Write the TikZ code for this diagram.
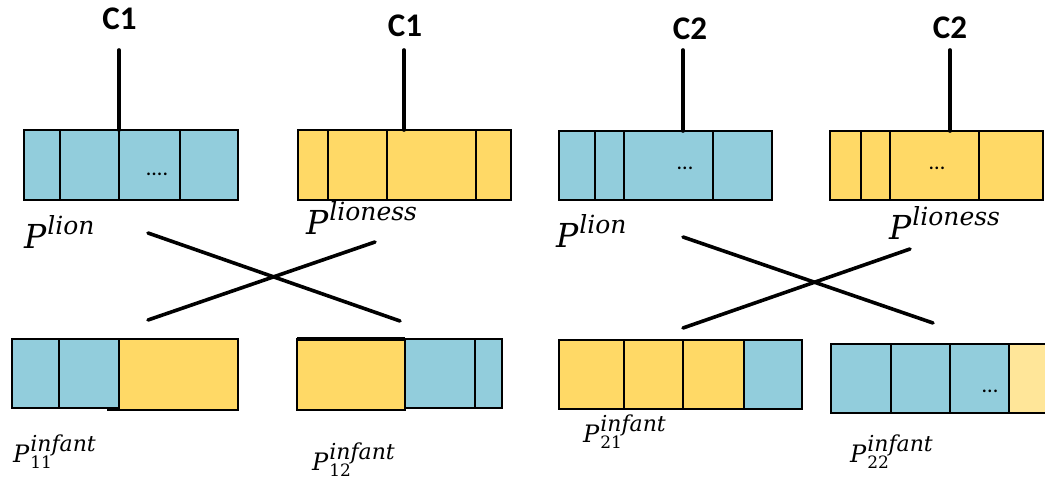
\documentclass[tikz,border=0pt]{standalone}
\usepackage{fontspec}
\newfontfamily\labfont{Carlito}
\newfontfamily\mfont{DejaVu Serif}
\definecolor{cblue}{HTML}{92CDDC}
\definecolor{cyel}{HTML}{FFD966}
\definecolor{clyel}{HTML}{FFE699}
\newcommand\topP[1]{\mfont\itshape P\kern1pt\raisebox{14pt}{\fontsize{25}{25}\selectfont #1}}
\newcommand\infP[1]{\mfont\itshape P\kern1pt%
  \rlap{\raisebox{11pt}{\fontsize{22}{22}\selectfont infant}}%
  \rlap{\raisebox{-6pt}{\fontsize{17}{17}\selectfont\upshape #1}}%
  \hphantom{\fontsize{22}{22}\selectfont infant}}
\tikzset{
  cell/.style={draw=black, line width=2.8pt, inner sep=0pt, outer sep=0pt, anchor=north west},
  bc/.style={cell, fill=cblue},
  yc/.style={cell, fill=cyel},
  lyc/.style={cell, fill=clyel},
  link/.style={line width=3.6pt, line cap=round},
  clab/.style={font=\labfont\bfseries\fontsize{33}{36}\selectfont, inner sep=0pt},
  plab/.style={font=\fontsize{33}{40}\selectfont, inner sep=0pt, anchor=base west},
  ilab/.style={font=\fontsize{24}{30}\selectfont, inner sep=0pt, anchor=base west},
  dotlab/.style={font=\labfont\fontsize{22}{24}\selectfont, inner sep=0pt},
}
\begin{document}
\begin{tikzpicture}[x=1pt,y=-1pt]
\clip (0,0) rectangle (1045,481);
\fill[white] (0,0) rectangle (1045,481);

% ---------- top row ----------
% box 1 (lion, C1)
\node[bc, minimum width=36pt, minimum height=70pt] (b1a) at (24,130) {};
\node[bc, minimum width=59pt, minimum height=70pt] (b1b) at (60,130) {};
\node[bc, minimum width=61pt, minimum height=70pt] (b1c) at (119,130) {};
\node[bc, minimum width=58pt, minimum height=70pt] (b1d) at (180,130) {};
\node[dotlab] (d1) at (157,174) {....};
% box 2 (lioness, C1)
\node[yc, minimum width=30pt, minimum height=70pt] (b2a) at (298,130) {};
\node[yc, minimum width=59pt, minimum height=70pt] (b2b) at (328,130) {};
\node[yc, minimum width=89pt, minimum height=70pt] (b2c) at (387,130) {};
\node[yc, minimum width=35pt, minimum height=70pt] (b2d) at (476,130) {};
% box 3 (lion, C2)
\node[bc, minimum width=36pt, minimum height=69pt] (b3a) at (559,131) {};
\node[bc, minimum width=29pt, minimum height=69pt] (b3b) at (595,131) {};
\node[bc, minimum width=89pt, minimum height=69pt] (b3c) at (624,131) {};
\node[bc, minimum width=59pt, minimum height=69pt] (b3d) at (713,131) {};
\node[dotlab] (d3) at (685,168) {...};
% box 4 (lioness, C2)
\node[yc, minimum width=31pt, minimum height=69pt] (b4a) at (830,131) {};
\node[yc, minimum width=29pt, minimum height=69pt] (b4b) at (861,131) {};
\node[yc, minimum width=89pt, minimum height=69pt] (b4c) at (890,131) {};
\node[yc, minimum width=64pt, minimum height=69pt] (b4d) at (979,131) {};
\node[dotlab] (d4) at (937,168) {...};

% C labels and their lines
\node[clab] (c1) at (119.5,19) {C1};
\node[clab] (c2) at (405,26) {C1};
\node[clab] (c3) at (690,29) {C2};
\node[clab] (c4) at (950,28) {C2};
\coordinate (t1) at (119,50);
\coordinate (t2) at (404,50);
\coordinate (t3) at (683,50);
\coordinate (t4) at (950,50);
\draw[link] (t1) -- (t1 |- b1b.north);
\draw[link] (t2) -- (t2 |- b2c.north);
\draw[link] (t3) -- (t3 |- b3c.north);
\draw[link] (t4) -- (t4 |- b4c.north);

% P labels, top
\node[plab] (p1) at (24,249) {\topP{lion}};
\node[plab] (p2) at (306,235) {\topP{lioness}};
\node[plab] (p3) at (556,248) {\topP{lion}};
\node[plab] (p4) at (889,240) {\topP{lioness}};

% ---------- crossings ----------
\coordinate (xa1) at (148,233);
\coordinate (xb1) at (400,321);
\coordinate (xa2) at (148,320);
\coordinate (xb2) at (375,242);
\draw[link] (xa1) -- (xb1);
\draw[link] (xa2) -- (xb2);
\coordinate (xa3) at (683,237);
\coordinate (xb3) at (933,323);
\coordinate (xa4) at (683,328);
\coordinate (xb4) at (910,249);
\draw[link] (xa3) -- (xb3);
\draw[link] (xa4) -- (xb4);

% ---------- bottom row ----------
% box 5 (P11)
\node[bc, minimum width=47pt, minimum height=69pt] (b5a) at (12,339) {};
\node[bc, minimum width=60pt, minimum height=69pt] (b5b) at (59,339) {};
\node[yc, minimum width=119pt, minimum height=71pt] (b5c) at (119,339) {};
\draw[line width=2.8pt] (b5c.south west) -- ++(-12,0);
% box 6 (P12)
\node[yc, minimum width=108pt, minimum height=71pt] (b6a) at (297,339) {};
\draw[line width=4.5pt] (b6a.north west) -- (b6a.north east);
\node[bc, minimum width=70pt, minimum height=69pt] (b6b) at (405,339) {};
\node[bc, minimum width=27pt, minimum height=69pt] (b6c) at (475,339) {};
% box 7 (P21)
\node[yc, minimum width=65pt, minimum height=69pt] (b7a) at (559,340) {};
\node[yc, minimum width=59pt, minimum height=69pt] (b7b) at (624,340) {};
\node[yc, minimum width=61pt, minimum height=69pt] (b7c) at (683,340) {};
\node[bc, minimum width=58pt, minimum height=69pt] (b7d) at (744,340) {};
% box 8 (P22)
\node[bc, minimum width=60pt, minimum height=69pt] (b8a) at (831,344) {};
\node[bc, minimum width=59pt, minimum height=69pt] (b8b) at (891,344) {};
\node[bc, minimum width=59pt, minimum height=69pt] (b8c) at (950,344) {};
\node[lyc, minimum width=50pt, minimum height=69pt] (b8d) at (1009,344) {};
\node[dotlab] (d8) at (990,391) {...};

% P labels, bottom
\node[ilab] (q1) at (13,462) {\infP{11}};
\node[ilab] (q2) at (312,470) {\infP{12}};
\node[ilab] (q3) at (583,442) {\infP{21}};
\node[ilab] (q4) at (850,462) {\infP{22}};
\end{tikzpicture}
\end{document}
